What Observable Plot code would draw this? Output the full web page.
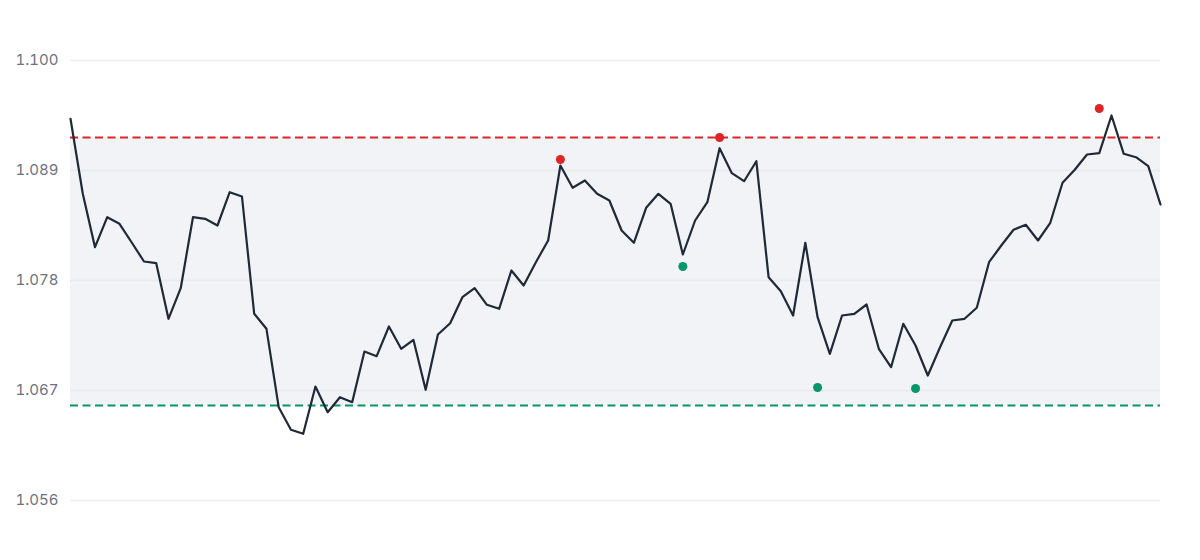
<!DOCTYPE html>
<html>
<head>
<meta charset="utf-8">
<script src="https://cdn.jsdelivr.net/npm/d3@7"></script>
<script src="https://cdn.jsdelivr.net/npm/@observablehq/plot@0.6"></script>
<style>
  html, body { margin: 0; padding: 0; background: #ffffff; }
  #chart { width: 1200px; height: 560px; }
</style>
</head>
<body>
<div id="chart"></div>
<script>
const prices = [
  1.09417, 1.0867, 1.08133, 1.08433, 1.08367, 1.0818, 1.0799, 1.07973, 1.07417, 1.07723,
  1.08433, 1.08417, 1.0835, 1.08683, 1.0864, 1.07467, 1.07317, 1.06533, 1.06307, 1.06267,
  1.0674, 1.06483, 1.06633, 1.06583, 1.0709, 1.07043, 1.0734, 1.07117, 1.07207, 1.06707,
  1.0726, 1.07373, 1.07633, 1.07723, 1.07557, 1.07517, 1.079, 1.0775, 1.07983, 1.082,
  1.0895, 1.08727, 1.088, 1.08667, 1.086, 1.083, 1.08177, 1.08527, 1.08667, 1.08567,
  1.0806, 1.084, 1.08583, 1.09123, 1.08873, 1.08793, 1.08993, 1.07833, 1.07693, 1.0745,
  1.08177, 1.07433, 1.07067, 1.0745, 1.07467, 1.0756, 1.07117, 1.06933, 1.07367, 1.0715,
  1.0685, 1.07133, 1.074, 1.07417, 1.07527, 1.07983, 1.0815, 1.08307, 1.08357, 1.082,
  1.08377, 1.08777, 1.08907, 1.0906, 1.09073, 1.0945, 1.09067, 1.09033, 1.08943, 1.0856
];
const upperBand = 1.0923;
const lowerBand = 1.0655;
const sellIndex = [40, 53, 84];
const sellValue = [1.0901, 1.0923, 1.0952];
const buyIndex = [50, 61, 69];
const buyValue = [1.0794, 1.0673, 1.0672];
const yTicks = [1.056, 1.067, 1.078, 1.089, 1.100];

const series = prices.map((v, i) => ({i, v}));
const sells = sellIndex.map((i, k) => ({i, v: sellValue[k]}));
const buys = buyIndex.map((i, k) => ({i, v: buyValue[k]}));

const chart = Plot.plot({
  width: 1200,
  height: 560,
  marginLeft: 70,
  marginRight: 40,
  marginTop: 60,
  marginBottom: 60,
  style: { fontFamily: "Inter, 'Noto Sans', sans-serif", background: "#ffffff" },
  x: { domain: [0, prices.length - 1], axis: null },
  y: { domain: [1.056, 1.100], axis: null },
  marks: [
    Plot.rect([{}], { x1: 0, x2: prices.length - 1, y1: lowerBand, y2: upperBand, fill: "#f1f3f7" }),
    Plot.gridY(yTicks, { stroke: "#e5e7eb", strokeOpacity: 0.8, strokeWidth: 1.5 }),
    Plot.axisY(yTicks, { tickSize: 0, tickPadding: 12, fontSize: 15, fill: "#6b7280", label: null, tickFormat: d3.format(".3f") }),
    Plot.ruleY([upperBand], { stroke: "#dc2626", strokeWidth: 2, strokeDasharray: "8,4.5" }),
    Plot.ruleY([lowerBand], { stroke: "#059669", strokeWidth: 2, strokeDasharray: "8,4.5" }),
    Plot.line(series, { x: "i", y: "v", stroke: "#1f2937", strokeWidth: 2.2 }),
    Plot.dot(sells, { x: "i", y: "v", r: 4.5, fill: "#dc2626" }),
    Plot.dot(buys, { x: "i", y: "v", r: 4.5, fill: "#059669" })
  ]
});
document.getElementById("chart").appendChild(chart);
</script>
</body>
</html>
